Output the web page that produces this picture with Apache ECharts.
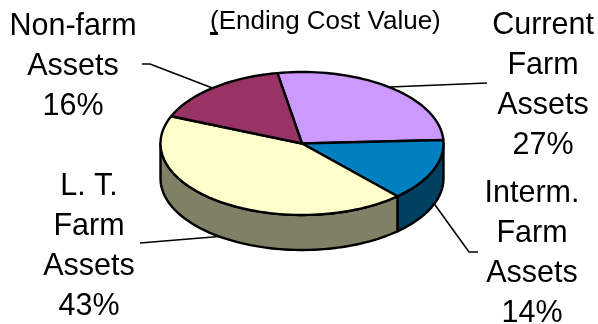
<!DOCTYPE html>
<html><head><meta charset="utf-8">
<style>html,body{margin:0;padding:0;background:#fff}#c{width:598px;height:324px}</style>
<script src="https://cdn.jsdelivr.net/npm/echarts@6/dist/echarts.min.js"></script>
</head><body><div id="c"></div>
<script>
const categories = ['Current\nFarm\nAssets', 'Interm.\nFarm\nAssets', 'L. T.\nFarm\nAssets', 'Non-farm\nAssets'];
const values = [27, 14, 43, 16];
const subtitle = '(Ending Cost Value)';

const topColors = ['#CC99FF', '#0080C0', '#FFFFCC', '#993366'];
const sideColors = ['#665080', '#004060', '#808066', '#4D1A33'];
const pieGeom = {cx: 302, cy: 143.5, rx: 141.5, ry: 71.5, depth: 35, startDeg: -10};
const labelLayout = [
  {x: 543, y: 6, leader: [[390, 87], [487, 83]]},
  {x: 532, y: 173.5, leader: [[425, 191], [469, 252], [478, 252]]},
  {x: 89, y: 166.5, leader: [[140, 243], [225, 236]]},
  {x: 73, y: 6.5, leader: [[142, 64], [150, 64], [215, 89]]}
];
const total = values.reduce((a, b) => a + b, 0);
const rad = d => d * Math.PI / 180;
const pt = (deg, dy) => [
  pieGeom.cx + pieGeom.rx * Math.sin(rad(deg)),
  pieGeom.cy - pieGeom.ry * Math.cos(rad(deg)) + (dy || 0)
];
function arc(a, b, dy) {
  const n = Math.max(2, Math.ceil(Math.abs(b - a) / 2)), out = [];
  for (let i = 0; i <= n; i++) out.push(pt(a + (b - a) * i / n, dy));
  return out;
}
const startAngles = [];
values.reduce((acc, v, i) => { startAngles[i] = acc; return acc + v / total * 360; }, pieGeom.startDeg);
const stroke = {stroke: '#000', lineWidth: 2.4, lineJoin: 'round'};

function renderSlice(params, api) {
  const i = params.dataIndex;
  const a = startAngles[i], b = a + api.value(0) / total * 360;
  const children = [];
  // visible front wall: 90..270 degrees
  const sa = Math.max(a, 90), sb = Math.min(b, 270);
  if (sb > sa) {
    const pts = arc(sa, sb, 0).concat(arc(sb, sa, pieGeom.depth));
    children.push({type: 'polygon', shape: {points: pts}, style: Object.assign({fill: sideColors[i]}, stroke)});
  }
  const topPts = [[pieGeom.cx, pieGeom.cy]].concat(arc(a, b, 0));
  children.push({type: 'polygon', shape: {points: topPts}, style: Object.assign({fill: topColors[i]}, stroke)});
  return {type: 'group', children};
}
function renderLabel(params, api) {
  const i = params.dataIndex, l = labelLayout[i];
  return {type: 'group', children: [
    {type: 'polyline', shape: {points: l.leader}, style: {stroke: '#000', lineWidth: 1.6, fill: null}},
    {type: 'text', style: {
      x: l.x, y: l.y, text: categories[i] + '\n' + api.value(0) + '%',
      fill: '#000', align: 'center', verticalAlign: 'top',
      font: '30.5px "Liberation Sans"', lineHeight: 40
    }}
  ]};
}
const chart = echarts.init(document.getElementById('c'), null, {renderer: 'canvas'});
chart.setOption({
  animation: false,
  backgroundColor: '#fff',
  title: {text: subtitle, left: 210, top: 9, padding: 0,
    textStyle: {fontFamily: 'Liberation Sans', fontSize: 26, fontWeight: 'normal', color: '#000'}},
  graphic: [{type: 'rect', shape: {x: 210, y: 32, width: 8, height: 3}, style: {fill: '#000'}}],
  series: [
    {type: 'custom', coordinateSystem: 'none', z: 1, silent: true, renderItem: renderLabel, data: values.map(v => [v])},
    {type: 'custom', coordinateSystem: 'none', z: 2, silent: true, renderItem: renderSlice, data: values.map(v => [v])}
  ]
});
</script></body></html>
